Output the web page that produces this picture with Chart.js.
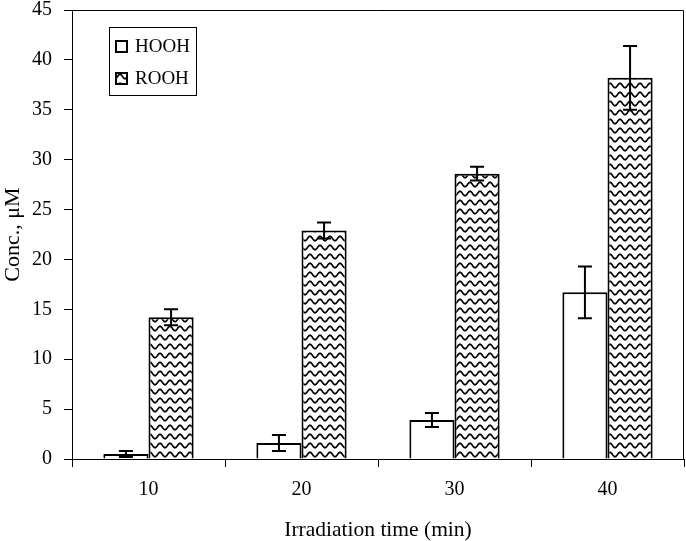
<!DOCTYPE html>
<html>
<head>
<meta charset="utf-8">
<script src="https://cdn.jsdelivr.net/npm/chart.js@4/dist/chart.umd.min.js"></script>
<style>
  html, body { margin: 0; padding: 0; background: #fff; }
  #wrap { width: 686px; height: 541px; }
</style>
</head>
<body>
<div id="wrap"><canvas id="js_concChart"></canvas></div>
<script>
// chart data
const times = ['10', '20', '30', '40'];
const hooh = [0.5, 1.6, 3.9, 16.7];
const hoohErr = [0.3, 0.8, 0.7, 2.6];
const rooh = [14.2, 22.9, 28.6, 38.2];
const roohErr = [0.8, 0.8, 0.7, 3.2];
const yTicks = [0, 5, 10, 15, 20, 25, 30, 35, 40, 45];

const serif = 'Liberation Serif';

// wavy fill for the ROOH bars
const makeWave = () => {
  const tile = document.createElement('canvas');
  tile.width = 10;
  tile.height = 9;
  const t = tile.getContext('2d');
  t.fillStyle = '#fff';
  t.fillRect(0, 0, 10, 9);
  t.strokeStyle = '#000';
  t.lineWidth = 1.7;
  t.beginPath();
  for (let x = -1; x <= 11; x += 0.5) {
    const y = 4.5 - 2.2 * Math.cos((2 * Math.PI * x) / 10);
    if (x === -1) t.moveTo(x, y); else t.lineTo(x, y);
  }
  t.stroke();
  return t.createPattern(tile, 'repeat');
};

const wave = makeWave();

// error bars, drawn through the y scale
const errorBars = {
  id: 'errorBars',
  afterDatasetsDraw: (chart) => {
    const { ctx } = chart;
    const y = chart.scales.y;
    ctx.save();
    ctx.strokeStyle = '#000';
    ctx.lineWidth = 2;
    chart.data.datasets.forEach((ds, i) => {
      chart.getDatasetMeta(i).data.forEach((bar, j) => {
        const top = y.getPixelForValue(ds.data[j] + ds.errors[j]);
        const bot = y.getPixelForValue(ds.data[j] - ds.errors[j]);
        ctx.beginPath();
        ctx.moveTo(bar.x, top);
        ctx.lineTo(bar.x, bot);
        ctx.moveTo(bar.x - 7, top);
        ctx.lineTo(bar.x + 7, top);
        ctx.moveTo(bar.x - 7, bot);
        ctx.lineTo(bar.x + 7, bot);
        ctx.stroke();
      });
    });
    ctx.restore();
  },
};

// top/right frame plus the boxed legend
const frameAndLegend = {
  id: 'frameAndLegend',
  afterDraw: (chart) => {
    const { ctx, chartArea: a } = chart;
    ctx.save();
    ctx.strokeStyle = '#000';
    ctx.lineWidth = 1;
    ctx.beginPath();
    ctx.moveTo(a.left, a.top + 0.5);
    ctx.lineTo(a.right - 0.5, a.top + 0.5);
    ctx.lineTo(a.right - 0.5, a.bottom);
    ctx.stroke();

    ctx.strokeRect(109.5, 27.5, 87, 68);
    ctx.font = '19px "' + serif + '"';
    ctx.textBaseline = 'alphabetic';
    chart.data.datasets.forEach((ds, i) => {
      const sy = 41 + i * 32;
      ctx.fillStyle = ds.backgroundColor;
      ctx.fillRect(116, sy, 11, 11);
      ctx.lineWidth = 2;
      ctx.strokeRect(116, sy, 11, 11);
      ctx.fillStyle = '#000';
      ctx.fillText(ds.label, 135, sy + 11);
    });
    ctx.restore();
  },
};

document.addEventListener('DOMContentLoaded', () => {
  const ctx = document.getElementById('js_concChart');

  new Chart(ctx, {
    type: 'bar',
    data: {
      labels: times,
      datasets: [
        {
          label: 'HOOH',
          data: hooh,
          errors: hoohErr,
          backgroundColor: '#fff',
          borderColor: '#000',
          borderWidth: 2,
        },
        {
          label: 'ROOH',
          data: rooh,
          errors: roohErr,
          backgroundColor: wave,
          borderColor: '#000',
          borderWidth: 2,
        },
      ],
    },
    options: {
      responsive: true,
      maintainAspectRatio: false,
      animation: false,
      layout: { padding: { top: 10, right: 2, left: 0, bottom: 0 } },
      datasets: { bar: { categoryPercentage: 0.59, barPercentage: 1 } },
      plugins: {
        legend: { display: false },
        tooltip: { enabled: false },
      },
      scales: {
        x: {
          afterFit: (scale) => {
            scale.height = 82;
            scale.paddingLeft = 0;
            scale.paddingRight = 0;
          },
          grid: {
            offset: true,
            drawOnChartArea: false,
            drawTicks: true,
            tickLength: 8,
            color: '#000',
          },
          border: { display: true, color: '#000', width: 1 },
          ticks: {
            color: '#000',
            padding: 11,
            font: { family: serif, size: 20 },
          },
          title: {
            display: true,
            text: 'Irradiation time (min)',
            color: '#000',
            padding: { top: 0, bottom: -2 },
            font: { family: serif, size: 21.5 },
          },
        },
        y: {
          min: 0,
          max: 45,
          afterFit: (scale) => {
            scale.width = 72;
            scale.paddingTop = 0;
            scale.paddingBottom = 0;
          },
          afterBuildTicks: (scale) => { scale.ticks = yTicks.map(v => ({ value: v })); },
          grid: {
            drawOnChartArea: false,
            drawTicks: true,
            tickLength: 8,
            color: '#000',
          },
          border: { display: true, color: '#000', width: 1 },
          ticks: {
            color: '#000',
            padding: 12,
            font: { family: serif, size: 20 },
          },
          title: {
            display: true,
            text: 'Conc., μM',
            color: '#000',
            padding: { top: 0, bottom: 0 },
            font: { family: serif, size: 22 },
          },
        },
      },
    },
    plugins: [errorBars, frameAndLegend],
  });
});
</script>
</body>
</html>
